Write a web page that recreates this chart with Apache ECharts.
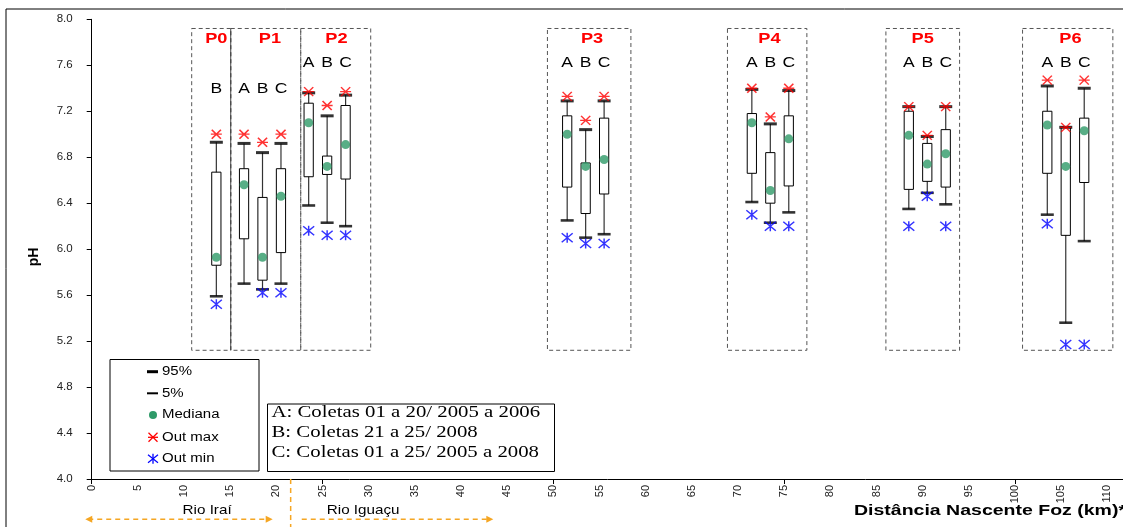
<!DOCTYPE html>
<html><head><meta charset="utf-8">
<script src="https://cdn.jsdelivr.net/npm/echarts@6/dist/echarts.min.js"></script>
<style>html,body{margin:0;padding:0;background:#fff}#c{width:1123px;height:527px}</style>
</head><body><div id="c"></div>
<script>
// ---- data (pH per sampling box, km from source) ----
const groupNames = ['P0','P1','P2','P3','P4','P5','P6'];
const groupLabelX = [13.5, 19.3, 26.5, 54.2, 73.4, 90.0, 106.0];
const groupLabelY = [7.83, 7.83, 7.83, 7.83, 7.83, 7.83, 7.83];
const frameX0 = [10.83, 15.06, 22.64, 49.36, 68.86, 86.02, 100.82];
const frameX1 = [15.06, 22.64, 30.22, 58.40, 77.46, 94.00, 110.60];
const frameTop = [7.92, 7.92, 7.92, 7.92, 7.92, 7.92, 7.92];
const frameBottom = [5.12, 5.12, 5.12, 5.12, 5.12, 5.12, 5.12];

const boxGroup = [0, 1,1,1, 2,2,2, 3,3,3, 4,4,4, 5,5,5, 6,6,6];
const boxLetter = ['B', 'A','B','C', 'A','B','C', 'A','B','C', 'A','B','C', 'A','B','C', 'A','B','C'];
const letterY = [7.39, 7.39,7.39,7.39, 7.62,7.62,7.62, 7.62,7.62,7.62, 7.62,7.62,7.62, 7.62,7.62,7.62, 7.62,7.62,7.62];
const boxX = [13.5, 16.5,18.5,20.5, 23.5,25.5,27.5, 51.5,53.5,55.5, 71.5,73.5,75.5, 88.5,90.5,92.5, 103.5,105.5,107.5];
const p95 =    [6.93, 6.92,6.84,6.92, 7.36,7.16,7.34, 7.29,7.04,7.29, 7.39,7.09,7.38, 7.24,6.98,7.24, 7.42,7.06,7.40];
const q3 =     [6.67, 6.70,6.45,6.70, 7.27,6.81,7.25, 7.16,6.75,7.14, 7.18,6.84,7.16, 7.20,6.92,7.04, 7.20,7.06,7.14];
const median = [5.93, 6.56,5.93,6.46, 7.10,6.72,6.91, 7.00,6.72,6.78, 7.10,6.51,6.96, 6.99,6.74,6.83, 7.08,6.72,7.03];
const q1 =     [5.86, 6.09,5.73,5.97, 6.63,6.65,6.61, 6.54,6.31,6.48, 6.66,6.40,6.55, 6.52,6.59,6.54, 6.66,6.12,6.58];
const p5 =     [5.59, 5.70,5.65,5.70, 6.38,6.23,6.20, 6.25,6.10,6.13, 6.41,6.23,6.32, 6.35,6.49,6.39, 6.30,5.36,6.07];
const outMax = [7.00, 7.00,6.93,7.00, 7.37,7.25,7.37, 7.33,7.12,7.33, 7.40,7.15,7.40, 7.24,6.99,7.24, 7.47,7.06,7.47];
const outMin = [5.52, null,5.62,5.62, 6.16,6.12,6.12, 6.10,6.05,6.05, 6.30,6.20,6.20, 6.20,6.46,6.20, 6.22,5.17,5.17];

const xTickLabels = [0,5,10,15,20,25,30,35,40,45,50,55,60,65,70,75,80,85,90,95,100,105,110];
const xMajorTicks = [0,25,50,75,100];
const legendNames = ['95%','5%','Mediana','Out max','Out min'];
const noteLines = ['A: Coletas 01 a 20/ 2005 a 2006','B: Coletas 21 a 25/ 2008','C: Coletas 01 a 25/ 2005 a 2008'];
const riverNames = ['Rio Iraí','Rio Iguaçu'];
const riverLabelX = [12.5, 29.4];
const riverSplitX = 21.55;
const riverArrowFrom = [-0.7, 22.75];
const riverArrowTo = [19.6, 43.5];

// ---- styles ----
const GREEN = '#2e9a68', RED = '#ff0000', BLUE = '#0000ff', ORANGE = '#f5a623';
const SANS = "'Liberation Sans', Arial, sans-serif";
const SERIF = "'Liberation Serif', 'Times New Roman', serif";
const STAR_H = 'path://M-6,0L6,0M-5,-5L5,5M-5,5L5,-5';
const STAR_V = 'path://M0,-5L0,5M-6,-4.5L6,4.5M-6,4.5L6,-4.5';

const chart = echarts.init(document.getElementById('c'), null, {renderer: 'canvas'});

const frameData = frameX0.map((x0, i) => [x0, frameX1[i], frameTop[i], frameBottom[i]]);
const boxData = boxX.map((x, i) => [x, p5[i], q1[i], q3[i], p95[i]]);
const letterData = boxX.map((x, i) => [x, letterY[i]]);
const groupLabelData = groupLabelX.map((x, i) => [x, groupLabelY[i]]);

const option = {
  animation: false,
  backgroundColor: '#fff',
  grid: {left: 91.7, right: 0, top: 19.3, bottom: 48, containLabel: false, outerBoundsMode: 'none'},
  xAxis: {
    type: 'value', min: 0, max: 111.7,
    axisLine: {show: true, lineStyle: {color: '#000', width: 1}},
    axisTick: {show: true, customValues: xMajorTicks, length: 5, lineStyle: {color: '#000'}},
    axisLabel: {customValues: xTickLabels, rotate: 90, margin: 6, fontSize: 11, color: '#222', fontFamily: SANS},
    splitLine: {show: false}
  },
  yAxis: {
    type: 'value', min: 4, max: 8, interval: 0.4,
    axisLine: {show: true, lineStyle: {color: '#000', width: 1}},
    axisTick: {show: true, length: 5, lineStyle: {color: '#000'}},
    axisLabel: {margin: 19, fontSize: 11.5, color: '#222', fontFamily: SANS, formatter: v => v.toFixed(1)},
    splitLine: {show: false}
  },
  series: [
    {
      name: 'frames', type: 'custom', data: frameData, silent: true, z: 1, clip: false,
      encode: {x: [0, 1], y: [2, 3]},
      renderItem: function (params, api) {
        const a = api.coord([api.value(0), api.value(2)]);
        const b = api.coord([api.value(1), api.value(3)]);
        const children = [{
          type: 'rect',
          shape: {x: a[0], y: a[1], width: b[0] - a[0], height: b[1] - a[1]},
          style: {fill: 'none', stroke: '#555', lineWidth: 1, lineDash: [4, 3]}
        }];
        if (params.dataIndex === 1) {
          children.push({type: 'line', shape: {x1: a[0], y1: a[1], x2: a[0], y2: b[1]},
            style: {stroke: '#444', lineWidth: 1}});
        }
        return {type: 'group', children: children};
      }
    },
    {
      name: 'boxes', type: 'custom', data: boxData, silent: true, z: 2,
      encode: {x: 0, y: [1, 2, 3, 4]},
      renderItem: function (params, api) {
        const x = api.value(0);
        const lo = api.coord([x, api.value(1)]);
        const b1 = api.coord([x, api.value(2)]);
        const b3 = api.coord([x, api.value(3)]);
        const hi = api.coord([x, api.value(4)]);
        const w = api.size([1, 0])[0];
        return {type: 'group', children: [
          {type: 'line', shape: {x1: lo[0], y1: lo[1], x2: hi[0], y2: hi[1]}, style: {stroke: '#333', lineWidth: 1.2}},
          {type: 'rect', shape: {x: b3[0] - w / 2, y: b3[1], width: w, height: b1[1] - b3[1]},
            style: {fill: '#fff', stroke: '#000', lineWidth: 1}}
        ]};
      }
    },
    {
      name: legendNames[0], type: 'scatter', z: 3, symbol: 'rect', symbolSize: [13, 3],
      itemStyle: {color: '#000'}, data: boxX.map((x, i) => [x, p95[i]])
    },
    {
      name: legendNames[1], type: 'scatter', z: 3, symbol: 'rect', symbolSize: [13, 2.6],
      itemStyle: {color: '#000'}, data: boxX.map((x, i) => [x, p5[i]])
    },
    {
      name: legendNames[2], type: 'scatter', z: 4, symbol: 'circle', symbolSize: 9,
      itemStyle: {color: GREEN}, data: boxX.map((x, i) => [x, median[i]])
    },
    {
      name: legendNames[3], type: 'scatter', z: 5, symbol: STAR_H, symbolSize: [11, 9],
      itemStyle: {color: 'rgba(0,0,0,0)', borderColor: RED, borderWidth: 1.4},
      data: boxX.map((x, i) => [x, outMax[i]]).filter(d => d[1] != null)
    },
    {
      name: legendNames[4], type: 'scatter', z: 5, symbol: STAR_V, symbolSize: [11, 10],
      itemStyle: {color: 'rgba(0,0,0,0)', borderColor: BLUE, borderWidth: 1.4},
      data: boxX.map((x, i) => [x, outMin[i]]).filter(d => d[1] != null)
    },
    {
      name: 'letters', type: 'custom', data: letterData, silent: true, z: 6,
      encode: {x: 0, y: 1},
      renderItem: function (params, api) {
        const p = api.coord([api.value(0), api.value(1)]);
        return {type: 'text', x: p[0], y: p[1], scaleX: 1.25,
          style: {text: boxLetter[params.dataIndex], align: 'center', verticalAlign: 'middle',
            font: '14px ' + SANS, fill: '#000'}};
      }
    },
    {
      name: 'groupLabels', type: 'custom', data: groupLabelData, silent: true, z: 6,
      encode: {x: 0, y: 1},
      renderItem: function (params, api) {
        const p = api.coord([api.value(0), api.value(1)]);
        return {type: 'text', x: p[0], y: p[1], scaleX: 1.3,
          style: {text: groupNames[params.dataIndex], align: 'center', verticalAlign: 'middle',
            font: 'bold 14px ' + SANS, fill: RED}};
      }
    }
  ]
};
chart.setOption(option);

// ---- annotations (legend box, notes, rivers, titles) ----
function star(cx, cy, color, vertical) {
  const lines = vertical
    ? [[0,-5,0,5],[-5,-4,5,4],[-5,4,5,-4]]
    : [[-5,0,5,0],[-4.5,-4.5,4.5,4.5],[-4.5,4.5,4.5,-4.5]];
  return lines.map(l => ({type: 'line', shape: {x1: cx + l[0], y1: cy + l[1], x2: cx + l[2], y2: cy + l[3]},
    style: {stroke: color, lineWidth: 1.3}}));
}
const px = km => chart.convertToPixel({xAxisIndex: 0}, km);
const axisY = chart.convertToPixel({yAxisIndex: 0}, 4);

const g = [];
// outer figure frame
g.push({type: 'rect', shape: {x: 6, y: 9, width: 1400, height: 700}, style: {fill: 'none', stroke: '#000', lineWidth: 1}, z: 0});
// legend box
const legY = [371.7, 393.3, 415, 437.3, 458.7];
const legSX = 153;
g.push({type: 'rect', shape: {x: 110, y: 359.5, width: 149, height: 111.5}, style: {fill: '#fff', stroke: '#000', lineWidth: 1}, z: 10});
g.push({type: 'rect', shape: {x: legSX - 6, y: legY[0] - 1.5, width: 11, height: 3}, style: {fill: '#000'}, z: 11});
g.push({type: 'rect', shape: {x: legSX - 6, y: legY[1] - 1, width: 11, height: 2}, style: {fill: '#000'}, z: 11});
g.push({type: 'circle', shape: {cx: legSX, cy: legY[2], r: 4}, style: {fill: GREEN}, z: 11});
star(legSX, legY[3], RED, false).forEach(e => { e.z = 11; g.push(e); });
star(legSX, legY[4], BLUE, true).forEach(e => { e.z = 11; g.push(e); });
legendNames.forEach((t, i) => g.push({type: 'text', x: 162, y: legY[i], scaleX: 1.2, z: 11,
  style: {text: t, font: '12.5px ' + SANS, fill: '#000', verticalAlign: 'middle', align: 'left'}}));
// notes box
g.push({type: 'rect', shape: {x: 267.5, y: 404, width: 287, height: 67.5}, style: {fill: '#fff', stroke: '#000', lineWidth: 1}, z: 10});
const noteY = [412.7, 432.3, 452.3];
noteLines.forEach((t, i) => g.push({type: 'text', x: 271.5, y: noteY[i], scaleX: 1.3, z: 11,
  style: {text: t, font: '16px ' + SERIF, fill: '#000', verticalAlign: 'middle', align: 'left'}}));
// rivers
const sx = px(riverSplitX);
g.push({type: 'line', shape: {x1: sx, y1: axisY, x2: sx, y2: 527}, style: {stroke: ORANGE, lineWidth: 1.5, lineDash: [5, 4]}, z: 10});
const arrowY = 519.3;
riverNames.forEach((t, i) => {
  g.push({type: 'text', x: px(riverLabelX[i]), y: 510.5, scaleX: 1.17, z: 10,
    style: {text: t, font: '13px ' + SANS, fill: '#000', align: 'center', verticalAlign: 'middle'}});
  const a = px(riverArrowFrom[i]), b = px(riverArrowTo[i]);
  g.push({type: 'line', shape: {x1: a + (i === 0 ? 3 : 0), y1: arrowY, x2: b - 3, y2: arrowY},
    style: {stroke: ORANGE, lineWidth: 1.5, lineDash: [5, 4]}, z: 10});
  g.push({type: 'polygon', shape: {points: [[b, arrowY], [b - 7, arrowY - 3.5], [b - 7, arrowY + 3.5]]}, style: {fill: ORANGE}, z: 10});
  if (i === 0) {
    g.push({type: 'polygon', shape: {points: [[a, arrowY], [a + 7, arrowY - 3.5], [a + 7, arrowY + 3.5]]}, style: {fill: ORANGE}, z: 10});
  }
});
// axis titles
g.push({type: 'text', x: 1126, y: 510.5, scaleX: 1.3, z: 10,
  style: {text: 'Distância Nascente Foz (km)*', font: 'bold 15px ' + SANS, fill: '#000', align: 'right', verticalAlign: 'middle'}});
g.push({type: 'text', x: 34, y: 257, rotation: Math.PI / 2, z: 10,
  style: {text: 'pH', font: 'bold 14px ' + SANS, fill: '#000', align: 'center', verticalAlign: 'middle'}});

chart.setOption({graphic: {elements: g}});
</script>
</body></html>
